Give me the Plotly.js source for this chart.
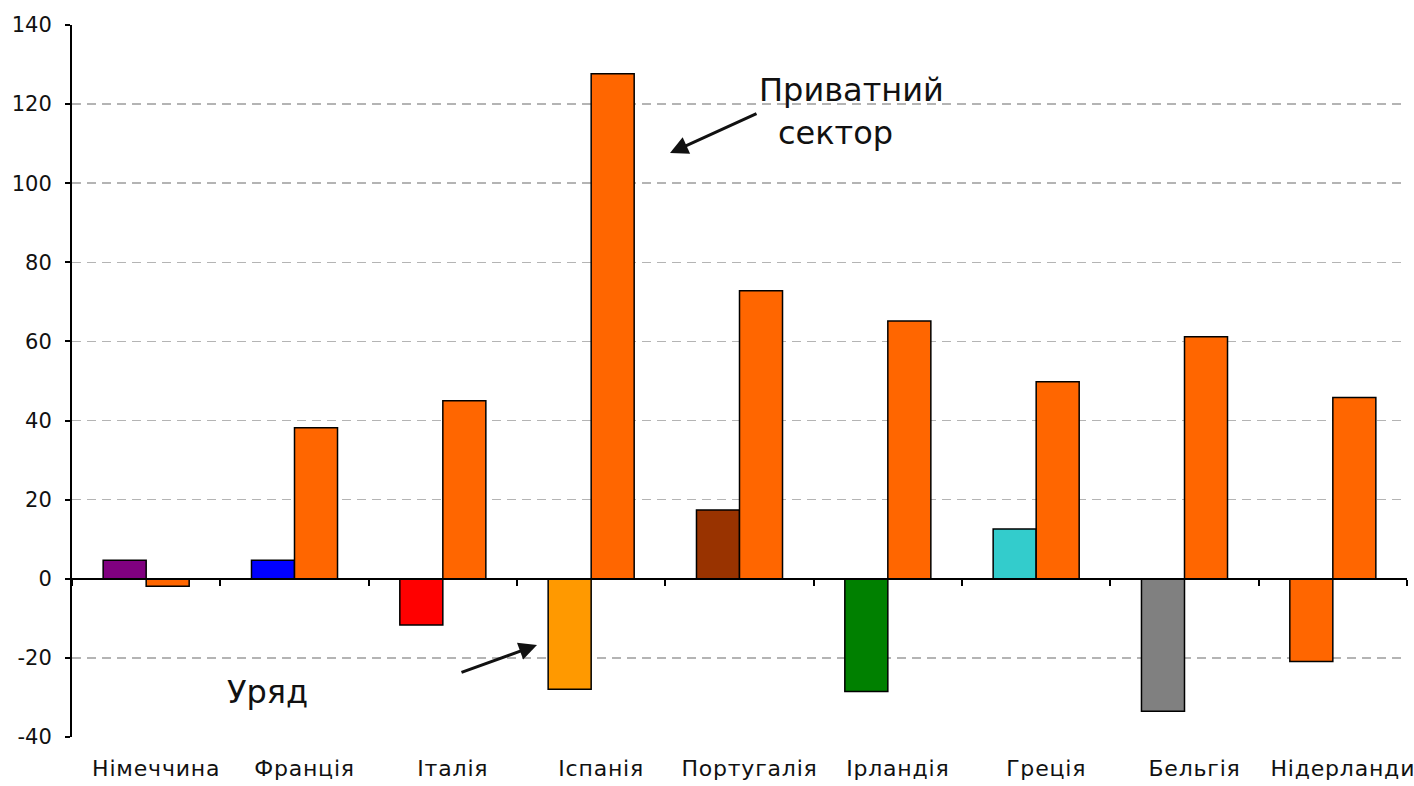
<!DOCTYPE html>
<html>
<head>
<meta charset="utf-8">
<script src="https://cdn.plot.ly/plotly-3.0.1.min.js"></script>
<style>html,body{margin:0;padding:0;background:#fff;}#chart{width:1414px;height:786px;}
#chart .xtick text{letter-spacing:0.8px;}</style>
</head>
<body>
<div id="chart"></div>
<script>
const categories = ["Німеччина","Франція","Італія","Іспанія","Португалія","Ірландія","Греція","Бельгія","Нідерланди"];
const governmentValues = [4.7, 4.7, -11.7, -27.9, 17.4, -28.5, 12.6, -33.5, -20.9];
const privateValues = [-1.9, 38.2, 45.0, 127.7, 72.8, 65.2, 49.8, 61.2, 45.8];
const governmentColors = ["#800080","#0000FF","#FF0000","#FF9900","#993300","#008000","#33CCCC","#808080","#FF6600"];
const privateColor = "#FF6600";
const yTicks = [-40,-20,0,20,40,60,80,100,120,140];

const FONT = "DejaVu Sans, Liberation Sans, Arial, sans-serif";

const traces = [
  {type:"bar", name:"Уряд", x:categories, y:governmentValues,
   marker:{color:governmentColors, line:{color:"#000", width:1.5}}, hoverinfo:"x+y"},
  {type:"bar", name:"Приватний сектор", x:categories, y:privateValues,
   marker:{color:privateColor, line:{color:"#000", width:1.5}}, hoverinfo:"x+y"},
  {type:"scatter", mode:"markers", x:categories, y:categories.map(()=>0), xaxis:"x2", yaxis:"y",
   marker:{opacity:0}, hoverinfo:"skip", showlegend:false}
];

const layout = {
  width:1414, height:786,
  margin:{l:72, r:7, t:25, b:49},
  paper_bgcolor:"#fff", plot_bgcolor:"#fff",
  showlegend:false,
  barmode:"group", bargap:0.42, bargroupgap:0,
  font:{family:FONT, color:"#111"},
  xaxis:{type:"category", categoryarray:categories, range:[-0.5,8.5],
    showline:false, showgrid:false, zeroline:false, ticks:"",
    tickfont:{family:FONT, size:22, color:"#111"}, ticklabelstandoff:16, ticklabelshift:10},
  xaxis2:{type:"category", categoryarray:categories, range:[-0.5,8.5],
    overlaying:"x", anchor:"free", position:40/180,
    showline:true, linecolor:"#000", linewidth:2,
    ticks:"outside", tickson:"boundaries", ticklen:6, tickwidth:2, tickcolor:"#000",
    showticklabels:false, showgrid:false, zeroline:false},
  yaxis:{range:[-40,140], tickvals:yTicks, ticktext:yTicks.map(String),
    showline:true, linecolor:"#000", linewidth:2,
    ticks:"outside", ticklen:5, tickwidth:2, tickcolor:"#000",
    showgrid:true, gridcolor:"#b4b4b4", gridwidth:1.5, griddash:"9px,6px",
    zeroline:false,
    tickfont:{family:FONT, size:21, color:"#111"}, ticklabelstandoff:9},
  annotations:[
    {xref:"paper", yref:"paper", x:(851-72)/1335, y:(737-90)/712, text:"Приватний", showarrow:false,
     font:{family:FONT, size:32, color:"#111"}, xanchor:"center", yanchor:"middle"},
    {xref:"paper", yref:"paper", x:(835-72)/1335, y:(737-133)/712, text:"сектор", showarrow:false,
     font:{family:FONT, size:32, color:"#111"}, xanchor:"center", yanchor:"middle"},
    {xref:"paper", yref:"paper", x:(267-72)/1335, y:(737-692)/712, text:"Уряд", showarrow:false,
     font:{family:FONT, size:32, color:"#111"}, xanchor:"center", yanchor:"middle"},
    {xref:"paper", yref:"paper", x:(670-72)/1335, y:(737-153)/712, text:"", showarrow:true,
     ax:88, ay:-40, arrowhead:2, arrowsize:1.2, arrowwidth:3, arrowcolor:"#111"},
    {xref:"paper", yref:"paper", x:(537-72)/1335, y:(737-645)/712, text:"", showarrow:true,
     ax:-77, ay:28, arrowhead:2, arrowsize:1.2, arrowwidth:3, arrowcolor:"#111"}
  ]
};

Plotly.newPlot("chart", traces, layout, {displayModeBar:false, staticPlot:true});
</script>
</body>
</html>
